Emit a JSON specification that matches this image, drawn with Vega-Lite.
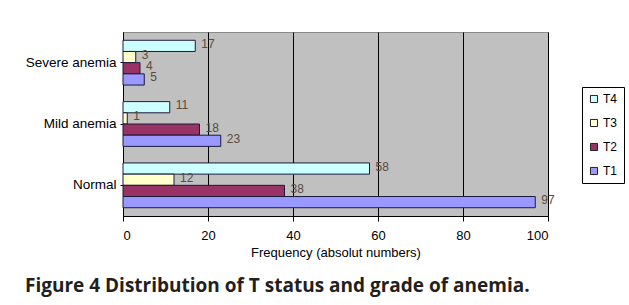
{
  "$schema": "https://vega.github.io/schema/vega-lite/v6.json",
  "width": 425,
  "height": 184,
  "autosize": {"type": "none"},
  "padding": {"left": 123, "top": 32, "right": 81, "bottom": 89},
  "background": "white",
  "config": {
    "font": "Liberation Sans",
    "view": {"fill": "#C0C0C0", "stroke": "#8a8a8a"}
  },
  "title": {
    "text": "Figure 4 Distribution of T status and grade of anemia.",
    "orient": "bottom",
    "anchor": "start",
    "frame": "group",
    "dx": -98,
    "offset": 18,
    "font": "Open Sans",
    "fontSize": 19,
    "fontWeight": "bold",
    "color": "#231f20"
  },
  "data": {
    "values": [
      {"grade": "Severe anemia", "T": "T4", "count": 17},
      {"grade": "Severe anemia", "T": "T3", "count": 3},
      {"grade": "Severe anemia", "T": "T2", "count": 4},
      {"grade": "Severe anemia", "T": "T1", "count": 5},
      {"grade": "Mild anemia", "T": "T4", "count": 11},
      {"grade": "Mild anemia", "T": "T3", "count": 1},
      {"grade": "Mild anemia", "T": "T2", "count": 18},
      {"grade": "Mild anemia", "T": "T1", "count": 23},
      {"grade": "Normal", "T": "T4", "count": 58},
      {"grade": "Normal", "T": "T3", "count": 12},
      {"grade": "Normal", "T": "T2", "count": 38},
      {"grade": "Normal", "T": "T1", "count": 97}
    ]
  },
  "encoding": {
    "y": {
      "field": "grade",
      "type": "nominal",
      "sort": ["Severe anemia", "Mild anemia", "Normal"],
      "scale": {"paddingInner": 0.27, "paddingOuter": 0.135},
      "axis": {
        "title": null,
        "labelFontSize": 13.5,
        "labelColor": "#000",
        "labelPadding": 4,
        "tickSize": 3,
        "tickColor": "#000",
        "domainColor": "#000"
      }
    },
    "yOffset": {
      "field": "T",
      "type": "nominal",
      "sort": ["T4", "T3", "T2", "T1"],
      "scale": {"paddingInner": 0, "paddingOuter": 0}
    },
    "x": {
      "field": "count",
      "type": "quantitative",
      "scale": {"domain": [0, 100], "nice": false},
      "axis": {
        "title": "Frequency (absolut numbers)",
        "titleFontSize": 13,
        "titleFontWeight": "normal",
        "titleColor": "#000",
        "titlePadding": 4,
        "values": [0, 20, 40, 60, 80, 100],
        "labelFontSize": 13,
        "labelColor": "#000",
        "labelPadding": 8,
        "tickColor": "#000",
        "tickSize": 5,
        "domainColor": "#000",
        "grid": true,
        "gridColor": "#000",
        "gridOpacity": 1,
        "gridWidth": 1
      }
    }
  },
  "layer": [
    {
      "mark": {"type": "bar", "stroke": "#1a1a3a", "strokeWidth": 1},
      "encoding": {
        "color": {
          "field": "T",
          "type": "nominal",
          "scale": {
            "domain": ["T4", "T3", "T2", "T1"],
            "range": ["#CCFFFF", "#FFFFCC", "#993366", "#9999FF"]
          },
          "legend": {
            "title": null,
            "orient": "none",
            "legendX": 459,
            "legendY": 55,
            "strokeColor": "#000",
            "fillColor": "#fff",
            "padding": 6,
            "symbolType": "square",
            "symbolSize": 50,
            "symbolStrokeColor": "#222",
            "symbolStrokeWidth": 1,
            "labelFontSize": 12,
            "labelColor": "#000",
            "labelOffset": 3,
            "rowPadding": 12
          }
        }
      }
    },
    {
      "mark": {
        "type": "text",
        "align": "left",
        "baseline": "middle",
        "dx": 6,
        "dy": -2,
        "fontSize": 12,
        "color": "#5a4a3a"
      },
      "encoding": {"text": {"field": "count", "type": "quantitative"}}
    }
  ]
}
